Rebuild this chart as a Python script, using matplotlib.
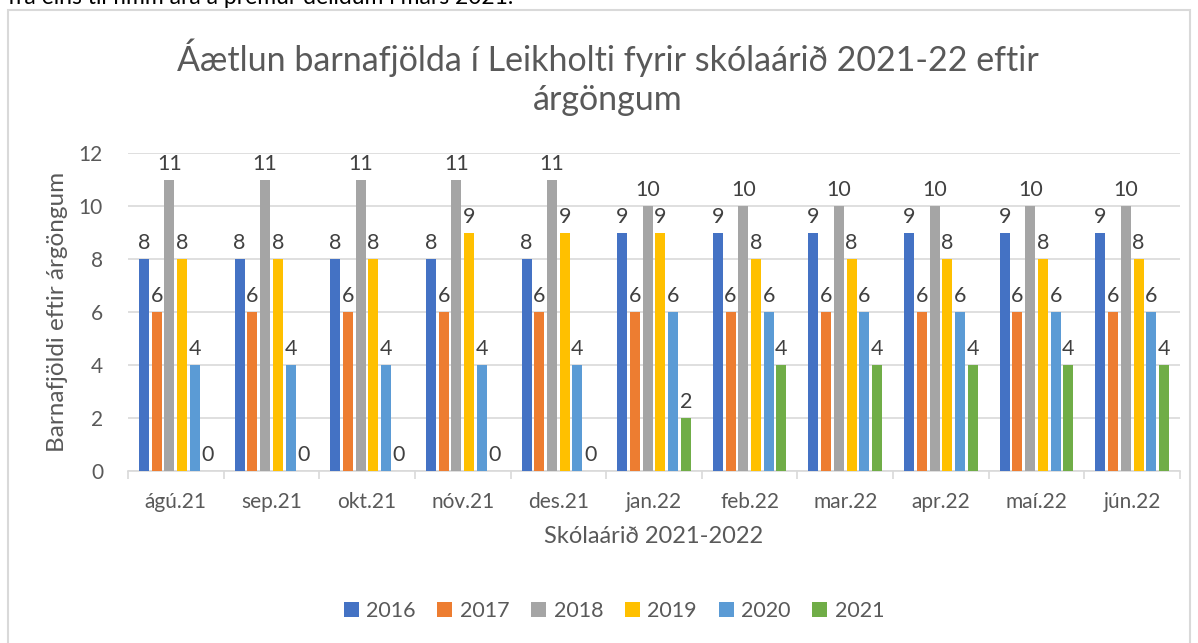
import matplotlib
matplotlib.use("Agg")
import matplotlib.pyplot as plt
import numpy as np
from matplotlib.patches import Rectangle

plt.rcParams["font.family"] = ["Lato", "DejaVu Sans"]

months = ["ágú.21", "sep.21", "okt.21", "nóv.21", "des.21", "jan.22",
          "feb.22", "mar.22", "apr.22", "maí.22", "jún.22"]
cohorts = ["2016", "2017", "2018", "2019", "2020", "2021"]
y2016 = [8, 8, 8, 8, 8, 9, 9, 9, 9, 9, 9]
y2017 = [6, 6, 6, 6, 6, 6, 6, 6, 6, 6, 6]
y2018 = [11, 11, 11, 11, 11, 10, 10, 10, 10, 10, 10]
y2019 = [8, 8, 8, 9, 9, 9, 8, 8, 8, 8, 8]
y2020 = [4, 4, 4, 4, 4, 6, 6, 6, 6, 6, 6]
y2021 = [0, 0, 0, 0, 0, 2, 4, 4, 4, 4, 4]
series = [y2016, y2017, y2018, y2019, y2020, y2021]
colors = ["#4472C4", "#ED7D31", "#A5A5A5", "#FFC000", "#5B9BD5", "#70AD47"]

TXT = "#595959"
W, H = 1198, 643
fig = plt.figure(figsize=(W / 100, H / 100), dpi=100)
fig.patch.set_facecolor("white")

# chart frame (cut at the bottom of the page)
fig.patches.append(Rectangle((8 / W, -0.05), (1190 - 8) / W, 1.05 - 10 / H,
                             transform=fig.transFigure, fill=False,
                             edgecolor="#d9d9d9", linewidth=1.5))
# cut-off line of body text above the chart
fig.text(8 / W, 1 - 4 / H, "frá eins til fimm ára á þremur deildum í mars 2021.",
         fontsize=16.5, color="black", va="baseline", ha="left")

ax = fig.add_axes([128 / W, 1 - 471 / H, (1180 - 128) / W, (471 - 153) / H])
x = np.arange(len(months))
bw = 0.105
step = 0.133
offs = (np.arange(len(cohorts)) - 2.5) * step
for vals, c, lab, o in zip(series, colors, cohorts, offs):
    ax.bar(x + o, vals, width=bw, color=c, label=lab, zorder=3)
    for xi, v in zip(x + o, vals):
        ax.text(xi, v + 0.22, str(v), ha="center", va="bottom",
                fontsize=15.5, color="#404040", zorder=4)

ax.set_xlim(-0.5, len(months) - 0.5)
ax.set_ylim(0, 12)
ax.set_yticks(range(0, 13, 2))
ax.yaxis.grid(True, color="#d9d9d9", linewidth=1.2, zorder=0)
ax.set_axisbelow(True)
for s in ["top", "right", "left"]:
    ax.spines[s].set_visible(False)
ax.spines["bottom"].set_color("#d9d9d9")
ax.spines["bottom"].set_linewidth(1.2)
ax.tick_params(axis="y", length=0, labelsize=15, labelcolor=TXT, pad=18)
ax.set_xticks(x)
ax.set_xticklabels(months)
ax.tick_params(axis="x", length=0, labelsize=15, labelcolor=TXT, pad=15)
ax.set_xticks(np.arange(-0.5, len(months)), minor=True)
ax.tick_params(axis="x", which="minor", length=6, color="#d9d9d9", width=1.2)

ax.set_ylabel("Barnafjöldi eftir árgöngum", fontsize=17.5, color=TXT, labelpad=8)
ax.set_xlabel("Skólaárið 2021-2022", fontsize=17, color=TXT, labelpad=10)

fig.text(608 / W, 1 - 77 / H,
         "Áætlun barnafjölda í Leikholti fyrir skólaárið 2021-22 eftir\nárgöngum",
         ha="center", va="center", fontsize=24.5, color=TXT, linespacing=1.25)

leg = fig.legend(loc="center", bbox_to_anchor=(614 / W, 1 - 611 / H), ncol=6,
                 frameon=False, fontsize=15.5, handlelength=0.7, handleheight=0.7,
                 handletextpad=0.35, columnspacing=1.0)
for t in leg.get_texts():
    t.set_color(TXT)

fig.savefig("out.png", dpi=100, facecolor="white")
